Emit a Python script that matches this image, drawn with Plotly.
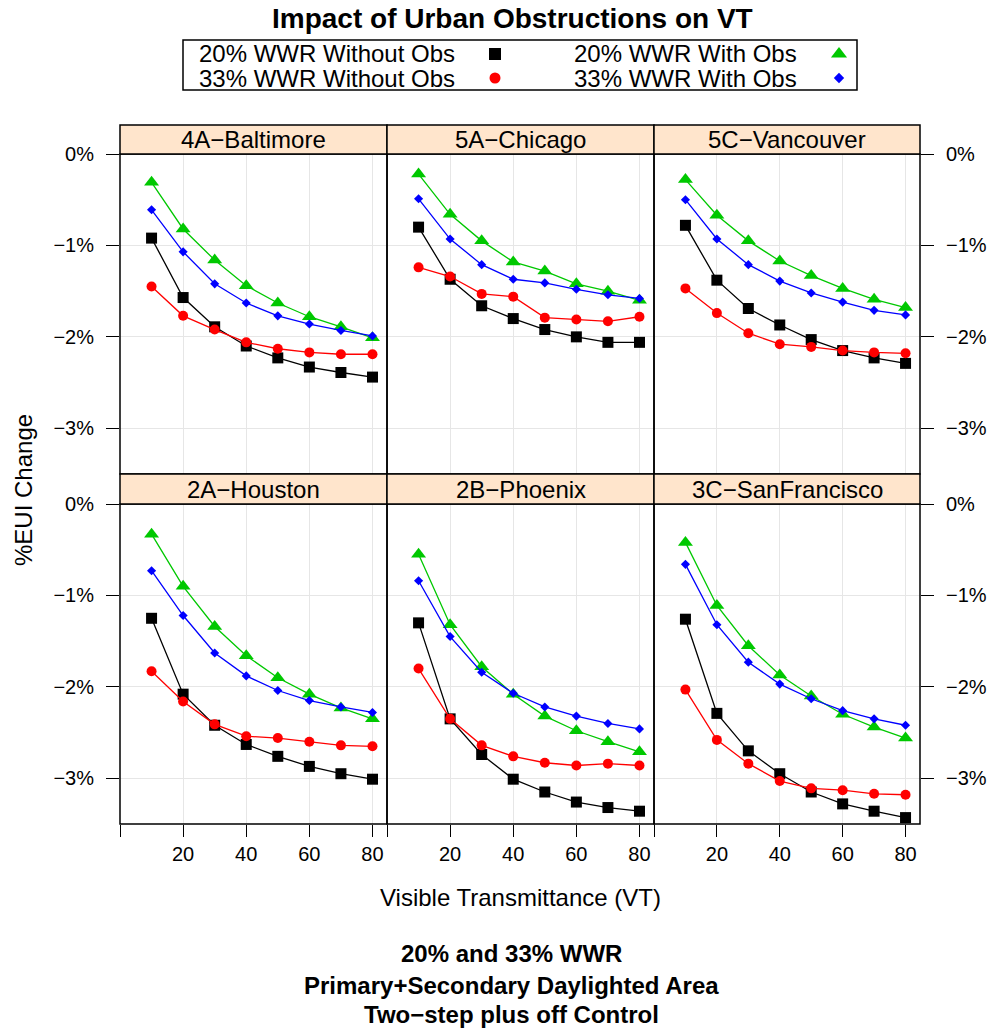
import plotly.graph_objects as go

# ---- data -------------------------------------------------------------
vt = [10, 20, 30, 40, 50, 60, 70, 80]

cities = ["4A−Baltimore", "5A−Chicago", "5C−Vancouver",
          "2A−Houston", "2B−Phoenix", "3C−SanFrancisco"]

# % EUI change, one list per city (same order as `cities`)
wwr20_without_obs = [
    [-0.92, -1.57, -1.89, -2.10, -2.23, -2.33, -2.39, -2.44],
    [-0.80, -1.37, -1.66, -1.80, -1.92, -2.00, -2.06, -2.06],
    [-0.78, -1.38, -1.69, -1.87, -2.03, -2.15, -2.23, -2.29],
    [-1.25, -2.08, -2.42, -2.63, -2.76, -2.87, -2.95, -3.01],
    [-1.30, -2.35, -2.74, -3.01, -3.15, -3.26, -3.32, -3.36],
    [-1.26, -2.29, -2.70, -2.95, -3.15, -3.28, -3.36, -3.43],
]
wwr20_with_obs = [
    [-0.31, -0.82, -1.16, -1.44, -1.63, -1.78, -1.89, -2.01],
    [-0.22, -0.66, -0.95, -1.18, -1.28, -1.42, -1.50, -1.60],
    [-0.28, -0.67, -0.95, -1.17, -1.33, -1.47, -1.59, -1.68],
    [-0.33, -0.90, -1.34, -1.66, -1.90, -2.08, -2.23, -2.35],
    [-0.55, -1.32, -1.78, -2.08, -2.32, -2.48, -2.60, -2.71],
    [-0.42, -1.11, -1.55, -1.87, -2.10, -2.30, -2.44, -2.56],
]
wwr33_without_obs = [
    [-1.45, -1.77, -1.92, -2.06, -2.13, -2.17, -2.19, -2.19],
    [-1.24, -1.34, -1.53, -1.56, -1.79, -1.81, -1.83, -1.78],
    [-1.47, -1.74, -1.96, -2.08, -2.11, -2.15, -2.17, -2.18],
    [-1.83, -2.16, -2.41, -2.54, -2.56, -2.60, -2.64, -2.65],
    [-1.80, -2.35, -2.64, -2.76, -2.83, -2.86, -2.84, -2.86],
    [-2.03, -2.58, -2.84, -3.03, -3.11, -3.13, -3.17, -3.18],
]
wwr33_with_obs = [
    [-0.61, -1.07, -1.42, -1.63, -1.77, -1.86, -1.93, -1.99],
    [-0.49, -0.93, -1.21, -1.37, -1.41, -1.48, -1.54, -1.58],
    [-0.50, -0.93, -1.21, -1.39, -1.52, -1.62, -1.71, -1.76],
    [-0.73, -1.22, -1.63, -1.88, -2.04, -2.15, -2.22, -2.28],
    [-0.84, -1.45, -1.84, -2.07, -2.22, -2.32, -2.40, -2.46],
    [-0.66, -1.32, -1.73, -1.97, -2.13, -2.26, -2.35, -2.42],
]

x_ticks = [0, 20, 40, 60, 80]
x_tick_text = ["", "20", "40", "60", "80"]
y_ticks = [0, -1, -2, -3]
y_tick_text = ["0%", "−1%", "−2%", "−3%"]

series = [
    ("20% WWR Without Obs", wwr20_without_obs, "#000000", "square", 11),
    ("20% WWR With Obs", wwr20_with_obs, "#00c800", "triangle-up", 13),
    ("33% WWR Without Obs", wwr33_without_obs, "#ff0000", "circle", 10),
    ("33% WWR With Obs", wwr33_with_obs, "#0000ff", "diamond", 7),
]

# ---- layout geometry (pixels) -----------------------------------------
W, H = 990, 1029
FONT = "Liberation Sans"
TXT = 24
col_px = [(120, 387), (387, 654), (654, 920)]
row_px = [(154, 474), (504, 824)]          # panel plot areas
strip_px = [(125, 154), (474, 504)]        # strip bars above each row
BORDER = dict(color="black", width=1.5)


def px(x):
    return x / W


def py(y):
    return 1 - y / H


fig = go.Figure()
layout = dict(
    width=W, height=H,
    margin=dict(l=0, r=0, t=0, b=0, pad=0, autoexpand=False),
    paper_bgcolor="white", plot_bgcolor="rgba(0,0,0,0)", showlegend=False,
    font=dict(family=FONT, color="black"),
)
shapes, annotations = [], []

for k, city in enumerate(cities):
    r, c = divmod(k, 3)
    xa = "xaxis" if k == 0 else f"xaxis{k + 1}"
    ya = "yaxis" if k == 0 else f"yaxis{k + 1}"
    xref = "x" if k == 0 else f"x{k + 1}"
    yref = "y" if k == 0 else f"y{k + 1}"
    x0, x1 = col_px[c]
    y0, y1 = row_px[r]
    bottom = r == 1
    layout[xa] = dict(
        domain=[px(x0), px(x1)], range=[0, 84.6], anchor=yref,
        tickvals=x_ticks, ticktext=x_tick_text,
        showticklabels=bottom, ticks="outside" if bottom else "",
        ticklen=12, tickwidth=1.3, tickcolor="black",
        tickfont=dict(size=20, color="black"),
        showgrid=True, gridcolor="#e6e6e6", gridwidth=1.4,
        showline=False, zeroline=False, fixedrange=True,
    )
    side = "left" if c == 0 else "right"
    show_y = c != 1
    layout[ya] = dict(
        domain=[py(y1), py(y0)], range=[-3.5, 0], anchor=xref, side=side,
        tickvals=y_ticks, ticktext=y_tick_text,
        showticklabels=show_y, ticks="outside" if show_y else "",
        ticklen=13, tickwidth=1.3, tickcolor="black",
        ticklabelstandoff=8,
        tickfont=dict(size=20, color="black"),
        showgrid=True, gridcolor="#e6e6e6", gridwidth=1.4,
        showline=False, zeroline=False, fixedrange=True,
    )
    for name, values, color, symbol, size in series:
        fig.add_trace(go.Scatter(
            x=vt, y=values[k], mode="lines+markers", name=name,
            xaxis=xref, yaxis=yref,
            line=dict(color=color, width=1.3),
            marker=dict(symbol=symbol, size=size, color=color,
                        line=dict(width=0)),
            cliponaxis=False,
        ))
    # panel frame
    shapes.append(dict(type="rect", xref="paper", yref="paper",
                       x0=px(x0), x1=px(x1), y0=py(y1), y1=py(y0),
                       line=BORDER, layer="above"))
    # strip bar with panel name
    s0, s1 = strip_px[r]
    shapes.append(dict(type="rect", xref="paper", yref="paper",
                       x0=px(x0), x1=px(x1), y0=py(s1), y1=py(s0),
                       fillcolor="#ffe5cc", line=BORDER))
    annotations.append(dict(text=city, x=px((x0 + x1) / 2), y=py((s0 + s1) / 2),
                            xref="paper", yref="paper", showarrow=False,
                            xanchor="center", yanchor="middle",
                            font=dict(size=TXT, color="black")))

# ---- key (text followed by its symbol) ---------------------------------
key_box = (183, 40, 857, 90)
key_rows = [54, 78]
key_text_x = [197, 572]
key_sym_x = [495, 839]
key_layout = [(0, 0), (1, 0), (0, 1), (1, 1)]   # (column, row) per series

layout["xaxis7"] = dict(domain=[px(key_box[0]), px(key_box[2])],
                        range=[key_box[0], key_box[2]], visible=False,
                        anchor="y7", fixedrange=True)
layout["yaxis7"] = dict(domain=[py(key_box[3]), py(key_box[1])],
                        range=[key_box[3], key_box[1]], visible=False,
                        anchor="x7", fixedrange=True)
shapes.append(dict(type="rect", xref="paper", yref="paper",
                   x0=px(key_box[0]), x1=px(key_box[2]),
                   y0=py(key_box[3]), y1=py(key_box[1]),
                   line=BORDER))
for (name, values, color, symbol, size), (kc, kr) in zip(series, key_layout):
    annotations.append(dict(text=name, x=px(key_text_x[kc]), y=py(key_rows[kr]),
                            xref="paper", yref="paper", showarrow=False,
                            xanchor="left", yanchor="middle",
                            font=dict(size=TXT, color="black")))
    fig.add_trace(go.Scatter(
        x=[key_sym_x[kc]], y=[key_rows[kr]], mode="markers",
        xaxis="x7", yaxis="y7", hoverinfo="skip", cliponaxis=False,
        marker=dict(symbol=symbol, size=size + 1, color=color,
                    line=dict(width=0)),
    ))

# ---- titles ------------------------------------------------------------
annotations += [
    dict(text="<b>Impact of Urban Obstructions on VT</b>", x=px(512), y=py(19),
         font=dict(size=28, color="black")),
    dict(text="Visible Transmittance (VT)", x=px(520), y=py(897),
         font=dict(size=TXT, color="black")),
    dict(text="%EUI Change", x=px(23), y=py(490), textangle=-90,
         font=dict(size=TXT, color="black")),
    dict(text="<b>20% and 33% WWR</b>", x=px(511), y=py(953),
         font=dict(size=TXT, color="black")),
    dict(text="<b>Primary+Secondary Daylighted Area</b>", x=px(511), y=py(985),
         font=dict(size=TXT, color="black")),
    dict(text="<b>Two−step plus off Control</b>", x=px(511), y=py(1014),
         font=dict(size=TXT, color="black")),
]
for a in annotations[-6:]:
    a.update(xref="paper", yref="paper", showarrow=False,
             xanchor="center", yanchor="middle")

layout["shapes"] = shapes
layout["annotations"] = annotations
fig.update_layout(**layout)
fig.write_html("out.html")
